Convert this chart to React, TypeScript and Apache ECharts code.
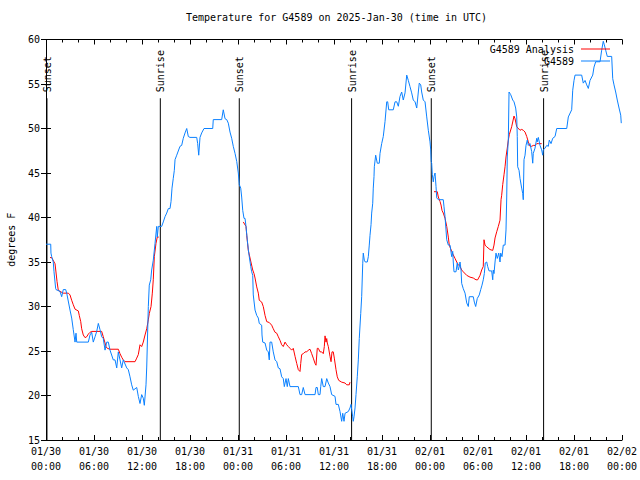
import React, { useEffect, useRef } from "react";
import * as echarts from "echarts";

// hours since 01/30 00:00 UTC, temperature (degrees F)
const observedA: [number, number][] = [
  [0.0, 37.0], [0.59, 37.0], [0.62, 36.0], [0.71, 35.6], [0.91, 35.0], [1.0, 33.9], [1.21, 32.0], [1.25, 31.9],
  [1.75, 31.7], [1.96, 31.1], [2.16, 31.9], [2.46, 31.9], [2.59, 31.5], [3.0, 29.6], [3.21, 28.7], [3.41, 27.4],
  [3.63, 26.0], [3.75, 27.0], [3.84, 26.0], [5.29, 26.0], [5.5, 26.8], [5.71, 27.1], [5.91, 26.0], [6.13, 26.6],
  [6.34, 27.2], [6.54, 28.1], [6.75, 27.4], [6.96, 26.6], [7.16, 26.4], [7.38, 25.1], [7.59, 26.0], [7.79, 26.0],
  [8.0, 25.1], [8.41, 24.0], [8.63, 24.0], [8.84, 23.1], [9.04, 24.9], [9.25, 24.0], [9.46, 23.1], [9.66, 24.0],
  [10.09, 23.1], [10.29, 22.9], [10.5, 22.1], [10.71, 21.2], [10.91, 20.6], [11.34, 20.9], [11.54, 19.9],
  [11.75, 19.1], [11.96, 20.1], [12.16, 19.7], [12.29, 18.9], [12.5, 21.2], [12.59, 23.2], [12.79, 30.0],
  [12.91, 32.4], [13.09, 33.0], [13.21, 34.1], [13.41, 35.2], [13.63, 37.1], [13.84, 39.0], [13.91, 37.8],
  [14.04, 39.0], [14.46, 39.0], [14.66, 39.5], [14.88, 40.1], [15.09, 40.5], [15.29, 41.0], [15.5, 41.0],
  [15.63, 41.8], [15.75, 43.3], [15.91, 44.4], [16.04, 45.3], [16.13, 46.5], [16.34, 47.0], [16.75, 48.0],
  [16.96, 48.1], [17.16, 48.9], [17.38, 49.5], [17.59, 50.0], [17.79, 49.1], [18.0, 49.0], [18.84, 49.0],
  [18.96, 48.3], [19.09, 47.0], [19.25, 49.0], [19.46, 49.5], [19.75, 50.0], [20.84, 50.0], [20.91, 51.0],
  [21.96, 51.0], [22.16, 52.1], [22.38, 51.1], [22.59, 51.0], [22.79, 50.6], [23.0, 49.6], [23.21, 48.9],
  [23.41, 48.0], [23.63, 47.2], [23.84, 46.3],
];
const observedB: [number, number][] = [
  [24.04, 45.0], [24.16, 43.7], [24.34, 43.3], [24.46, 42.3], [24.59, 40.8], [24.75, 39.9], [24.88, 39.9],
  [25.0, 39.0], [25.16, 37.5], [25.29, 36.4], [25.41, 35.6], [25.59, 34.5], [25.71, 33.9], [25.84, 33.5],
  [25.91, 31.3], [26.13, 29.6], [26.34, 29.0], [26.54, 28.7], [26.66, 28.1], [26.96, 27.9], [27.0, 26.8],
  [27.09, 26.0], [27.38, 25.9], [27.59, 25.1], [27.79, 24.9], [27.91, 24.0], [28.0, 26.0], [28.21, 26.0],
  [28.41, 24.9], [28.63, 24.0], [28.84, 23.8], [29.04, 23.1], [29.25, 23.0], [29.46, 22.1], [29.66, 21.9],
  [29.79, 21.0], [30.0, 21.9], [30.16, 21.0], [30.29, 21.9], [30.5, 21.0], [31.54, 21.0], [31.75, 20.1],
  [31.96, 20.1], [32.16, 20.9], [32.38, 20.1], [33.63, 20.1], [33.75, 20.9], [33.91, 20.9], [34.04, 20.1],
  [34.25, 20.1], [34.34, 21.0], [34.46, 21.9], [34.66, 21.0], [34.88, 21.0], [35.09, 21.9], [35.29, 21.4],
  [35.5, 21.0], [35.71, 20.1], [36.13, 19.9], [36.25, 19.0], [36.54, 19.0], [36.75, 18.2], [36.96, 17.1],
  [37.09, 18.0], [37.25, 17.1], [37.38, 18.0], [37.79, 18.2], [38.0, 18.6], [38.13, 19.0], [38.21, 18.4],
  [38.34, 17.6], [38.41, 17.1], [38.5, 17.6], [38.63, 18.6], [38.75, 20.1], [38.91, 22.1], [39.04, 24.0],
  [39.16, 26.4], [39.34, 29.2], [39.46, 31.1], [39.59, 34.8], [39.66, 36.0], [39.79, 35.2], [39.91, 35.0],
  [40.16, 35.0], [40.29, 35.6], [40.41, 36.9], [40.5, 38.0], [40.63, 39.2], [40.71, 40.5], [40.84, 41.6],
  [40.91, 43.3], [41.0, 44.6], [41.04, 45.7], [41.21, 47.0], [41.41, 46.1], [41.66, 46.1], [41.75, 47.2],
  [41.96, 48.3], [42.16, 49.1], [42.38, 50.8], [42.59, 53.0], [42.71, 53.0], [42.84, 52.1], [43.41, 52.1],
  [43.63, 53.0], [43.84, 53.0], [44.04, 52.5], [44.25, 53.6], [44.46, 54.1], [44.66, 53.2], [44.88, 54.0],
  [45.09, 56.0], [45.29, 55.4], [45.5, 54.7], [45.71, 54.0], [45.91, 53.2], [46.13, 53.0], [46.34, 52.3],
  [46.54, 54.1], [46.66, 55.1], [46.84, 54.9], [46.96, 54.1], [47.16, 53.2], [47.38, 53.0], [47.59, 51.3],
  [47.79, 49.8],
];
const observedC: [number, number][] = [
  [48.0, 48.5], [48.09, 47.6], [48.15, 46.3], [48.21, 46.1], [48.29, 44.8], [48.41, 44.0], [48.5, 44.6],
  [48.63, 45.0], [48.75, 43.5], [48.84, 42.2], [49.04, 42.0], [49.66, 42.0], [49.75, 41.2], [49.88, 40.1],
  [50.0, 38.6], [50.09, 37.5], [50.29, 36.9], [50.5, 36.9], [50.71, 35.6], [50.84, 36.2], [50.91, 35.0],
  [51.0, 33.9], [51.25, 33.9], [51.41, 34.9], [51.54, 34.1], [51.66, 34.5], [51.75, 35.0], [51.88, 34.1],
  [51.96, 32.6], [52.16, 32.0], [52.38, 31.5], [52.59, 30.4], [52.79, 30.0], [52.91, 31.1], [53.41, 31.1],
  [53.54, 30.5], [53.71, 30.0], [53.91, 30.9], [54.16, 31.3], [54.34, 31.9], [54.5, 32.4], [54.66, 33.0],
  [54.79, 33.7], [54.91, 34.9], [55.09, 35.0], [55.21, 34.5], [55.38, 34.0], [55.71, 34.0], [55.84, 33.0],
  [55.91, 34.1], [56.0, 33.7], [56.13, 35.0], [56.25, 36.0], [56.41, 35.4], [56.59, 36.0], [56.75, 35.0],
  [56.84, 36.0], [57.0, 35.6], [57.16, 36.9], [57.38, 36.9], [57.5, 38.6], [57.59, 42.3], [57.66, 46.8],
  [57.79, 48.7], [57.88, 54.1], [58.09, 53.8], [58.34, 53.2], [58.5, 53.0], [58.71, 52.3], [58.84, 51.3],
  [58.91, 49.1], [58.96, 45.7], [59.13, 45.3], [59.25, 44.4], [59.46, 43.3], [59.59, 42.7], [59.66, 42.0],
  [59.75, 46.5], [59.88, 47.0], [60.0, 48.1], [60.16, 48.7], [60.29, 48.1], [60.5, 48.3], [60.71, 47.4],
  [60.84, 46.1], [60.91, 47.2], [61.13, 47.8], [61.34, 48.9], [61.41, 48.5], [61.54, 49.0], [61.75, 48.1],
  [61.96, 47.6], [62.09, 47.0], [62.16, 47.6], [62.38, 47.8], [62.59, 48.1], [62.79, 48.0], [62.91, 48.7],
  [63.13, 48.3], [63.34, 48.9], [63.63, 49.1], [63.84, 50.0], [65.09, 50.0], [65.29, 51.3], [65.71, 52.1],
  [65.84, 54.3], [66.0, 55.4], [66.13, 56.0], [66.96, 56.0], [67.16, 55.1], [67.38, 55.4], [67.59, 54.9],
  [67.79, 54.5], [68.0, 55.4], [68.34, 56.0], [68.5, 56.9], [68.71, 57.5], [69.25, 57.5], [69.46, 58.8],
  [69.66, 59.8], [69.79, 59.4], [69.96, 58.8], [70.16, 58.1], [70.71, 58.1], [70.84, 55.6], [71.0, 54.9],
  [71.21, 54.1], [71.41, 53.2], [71.63, 52.3], [71.84, 51.5], [71.91, 50.6],
];

const analysisA: [number, number][] = [
  [0.5, 35.5], [0.71, 35.5], [1.13, 34.8], [1.38, 32.8], [1.54, 31.8], [1.75, 31.7], [2.16, 31.5], [2.79, 31.5],
  [3.0, 31.3], [3.21, 30.7], [3.41, 30.2], [3.63, 29.7], [4.04, 29.5], [4.16, 29.0], [4.34, 28.3], [4.46, 27.5],
  [4.66, 26.8], [4.88, 26.5], [5.09, 26.6], [5.29, 26.9], [5.5, 27.1], [5.71, 27.2], [6.96, 27.2], [7.16, 26.6],
  [7.38, 25.9], [7.5, 25.5], [7.66, 25.3], [8.0, 25.2], [9.04, 25.2], [9.25, 24.7], [9.46, 24.3], [9.66, 24.0],
  [9.88, 23.8], [11.13, 23.8], [11.34, 24.2], [11.54, 24.6], [11.75, 25.7], [11.96, 25.5], [12.16, 26.0],
  [12.38, 26.8], [12.59, 27.5], [12.79, 28.5], [12.91, 29.2], [13.13, 30.0], [13.29, 31.5], [13.41, 33.0],
  [13.54, 35.6], [13.75, 37.1], [13.91, 37.8], [14.09, 37.8],
];
const analysisB: [number, number][] = [
  [24.66, 39.5], [25.0, 39.0], [25.09, 38.0], [25.29, 36.3], [25.84, 34.1], [26.0, 33.7], [26.13, 33.2],
  [26.34, 32.2], [26.54, 31.5], [26.66, 30.7], [26.96, 30.5], [27.16, 30.0], [27.38, 29.0], [27.59, 28.3],
  [27.91, 28.2], [28.21, 27.9], [28.41, 27.5], [28.63, 27.1], [28.84, 27.0], [29.04, 26.6], [29.25, 26.2],
  [29.46, 25.7], [29.66, 25.5], [29.88, 26.0], [30.09, 25.7], [30.29, 25.5], [30.5, 25.3], [30.71, 25.1],
  [30.91, 25.3], [31.13, 24.4], [31.34, 23.6], [31.54, 22.9], [31.75, 22.7], [31.84, 23.6], [31.96, 24.6],
  [32.16, 24.7], [32.38, 24.9], [32.59, 24.9], [32.79, 25.1], [33.0, 25.2], [33.21, 24.7], [33.41, 24.2],
  [33.63, 23.6], [33.75, 23.4], [33.91, 25.3], [34.04, 25.3], [34.25, 24.9], [34.46, 24.9], [34.66, 24.7],
  [34.79, 25.5], [34.88, 26.7], [35.0, 26.0], [35.09, 26.4], [35.16, 25.9], [35.29, 25.5], [35.5, 24.4],
  [35.63, 23.8], [35.75, 24.9], [35.91, 24.9], [36.04, 24.2], [36.25, 22.9], [36.41, 22.1], [36.59, 21.7],
  [36.96, 21.5], [37.38, 21.4], [37.59, 21.2], [37.91, 21.2], [38.0, 21.5],
];
const analysisC: [number, number][] = [
  [48.5, 42.9], [48.91, 42.9], [49.04, 42.3], [49.25, 41.8], [49.38, 41.4], [49.5, 40.8], [49.66, 40.5],
  [49.88, 39.9], [50.09, 39.0], [50.29, 37.8], [50.41, 36.9], [50.71, 36.2], [50.91, 35.8], [51.13, 35.4],
  [51.34, 35.0], [51.54, 34.7], [51.75, 34.5], [51.96, 34.1], [52.16, 33.9], [52.59, 33.5], [53.0, 33.3],
  [53.41, 33.2], [53.75, 33.0], [53.96, 33.0], [54.25, 33.5], [54.46, 34.1], [54.66, 34.5], [54.75, 37.5],
  [54.88, 36.9], [55.09, 36.7], [55.5, 36.4], [55.84, 36.3], [56.0, 36.9], [56.13, 37.7], [56.34, 38.4],
  [56.54, 39.0], [56.75, 39.7], [56.88, 42.0], [56.96, 42.5], [57.09, 43.7], [57.25, 44.8], [57.38, 45.7],
  [57.5, 46.8], [57.66, 47.8], [57.79, 48.7], [57.91, 49.3], [58.21, 50.2], [58.5, 51.4], [58.63, 51.1],
  [58.84, 50.2], [59.25, 49.8], [59.46, 49.9], [59.66, 49.8], [59.88, 49.6], [60.09, 49.1], [60.29, 48.5],
  [60.5, 48.0], [60.71, 48.0], [60.91, 48.1], [61.13, 48.1], [61.34, 48.3], [61.54, 48.3], [61.75, 48.3],
  [61.96, 48.3],
];

const sunHours = [0.12, 14.29, 24.16, 38.2, 48.16, 62.2];
const sunLabels = ["Sunset", "Sunrise", "Sunset", "Sunrise", "Sunset", "Sunrise"];
const sunLineTopValue = 53.4;

const xTickLabels = [
  "01/30\n00:00", "01/30\n06:00", "01/30\n12:00", "01/30\n18:00",
  "01/31\n00:00", "01/31\n06:00", "01/31\n12:00", "01/31\n18:00",
  "02/01\n00:00", "02/01\n06:00", "02/01\n12:00", "02/01\n18:00",
  "02/02\n00:00",
];
const yMin = 15;
const yMax = 60;

const titleText = "Temperature for G4589 on 2025-Jan-30 (time in UTC)";
const analysisName = "G4589 Analysis";
const observedName = "G4589";

const FONT = '"DejaVu Sans Mono", "Liberation Mono", monospace';

export default function App() {
  const ref = useRef<HTMLDivElement>(null);
  useEffect(() => {
    if (!ref.current) return;
    const chart = echarts.init(ref.current, undefined, { renderer: "svg" });
    const gap: any = [null, "-"];
    const analysis = [...analysisA, gap, ...analysisB, gap, ...analysisC];
    const observed = [...observedA, ...observedB, ...observedC];
    const tickBase = {
      show: true,
      inside: true,
      length: 5,
      lineStyle: { color: "#000", width: 1 },
    };
    const legendBase = {
      right: 30,
      orient: "vertical",
      align: "right",
      icon: "rect",
      itemWidth: 29,
      itemHeight: 1,
      itemGap: 0,
      padding: 0,
      textStyle: { fontFamily: FONT, fontSize: 10, color: "#000", padding: [0, 2, 0, 0] },
    };
    chart.setOption({
      animation: false,
      backgroundColor: "#fff",
      title: {
        text: titleText,
        left: 181,
        top: 7,
        textStyle: { fontFamily: FONT, fontSize: 10, fontWeight: "normal", color: "#000" },
      },
      legend: [
        { ...legendBase, data: [analysisName], top: 44 },
        { ...legendBase, data: [observedName], top: 56 },
      ],
      grid: {
        left: 46,
        right: 18,
        top: 39.5,
        bottom: 40,
        containLabel: false,
        outerBoundsMode: "none",
      },
      xAxis: [
        {
          type: "value",
          min: 0,
          max: 72,
          interval: 6,
          position: "bottom",
          axisLine: { show: true, lineStyle: { color: "#000", width: 1 } },
          axisTick: tickBase,
          minorTick: { show: true, splitNumber: 3, length: 3, lineStyle: { color: "#000", width: 1 } },
          splitLine: { show: false },
          axisLabel: {
            show: true,
            margin: 4,
            showMinLabel: true,
            showMaxLabel: true,
            fontFamily: FONT,
            fontSize: 10,
            lineHeight: 15,
            color: "#000",
            formatter: (v: number) => xTickLabels[Math.round(v / 6)] ?? "",
          },
        },
        {
          type: "value",
          min: 0,
          max: 72,
          interval: 6,
          position: "top",
          axisLine: { show: true, lineStyle: { color: "#000", width: 1 } },
          axisTick: tickBase,
          minorTick: { show: true, splitNumber: 3, length: 3, lineStyle: { color: "#000", width: 1 } },
          splitLine: { show: false },
          axisLabel: { show: false },
        },
      ],
      yAxis: [
        {
          type: "value",
          min: yMin,
          max: yMax,
          interval: 5,
          position: "left",
          name: "degrees F",
          nameLocation: "middle",
          nameGap: 30,
          nameTextStyle: { fontFamily: FONT, fontSize: 10, color: "#000" },
          axisLine: { show: true, lineStyle: { color: "#000", width: 1 } },
          axisTick: tickBase,
          splitLine: { show: false },
          axisLabel: { margin: 6, fontFamily: FONT, fontSize: 10, color: "#000" },
        },
        {
          type: "value",
          min: yMin,
          max: yMax,
          interval: 5,
          position: "right",
          axisLine: { show: true, lineStyle: { color: "#000", width: 1 } },
          axisTick: tickBase,
          splitLine: { show: false },
          axisLabel: { show: false },
        },
      ],
      series: [
        {
          type: "custom",
          name: "sun",
          xAxisIndex: 0,
          yAxisIndex: 0,
          silent: true,
          z: 1,
          data: sunHours.map((h) => [h, yMin]),
          renderItem: (params: any, api: any) => {
            const h = api.value(0);
            const top = api.coord([h, sunLineTopValue]);
            const bot = api.coord([h, yMin]);
            return {
              type: "group",
              children: [
                {
                  type: "line",
                  shape: { x1: top[0], y1: top[1], x2: bot[0], y2: bot[1] },
                  style: { stroke: "#000", lineWidth: 1 },
                },
                {
                  type: "text",
                  x: top[0] + 0.5,
                  y: top[1] - 6,
                  rotation: Math.PI / 2,
                  style: {
                    text: sunLabels[params.dataIndex],
                    fill: "#000",
                    font: `10px ${FONT}`,
                    align: "left",
                    verticalAlign: "middle",
                  },
                },
              ],
            };
          },
        },
        {
          type: "line",
          name: analysisName,
          xAxisIndex: 0,
          yAxisIndex: 0,
          data: analysis,
          symbol: "none",
          connectNulls: false,
          z: 2,
          lineStyle: { color: "#ff0000", width: 1 },
          itemStyle: { color: "#ff0000" },
        },
        {
          type: "line",
          name: observedName,
          xAxisIndex: 0,
          yAxisIndex: 0,
          data: observed,
          symbol: "none",
          z: 3,
          lineStyle: { color: "#0a80ff", width: 1 },
          itemStyle: { color: "#0a80ff" },
        },
      ],
    });
    return () => chart.dispose();
  }, []);
  return (
    <div
      ref={ref}
      style={{ position: "absolute", left: 0, top: 0, width: 640, height: 480, background: "#fff" }}
    />
  );
}
